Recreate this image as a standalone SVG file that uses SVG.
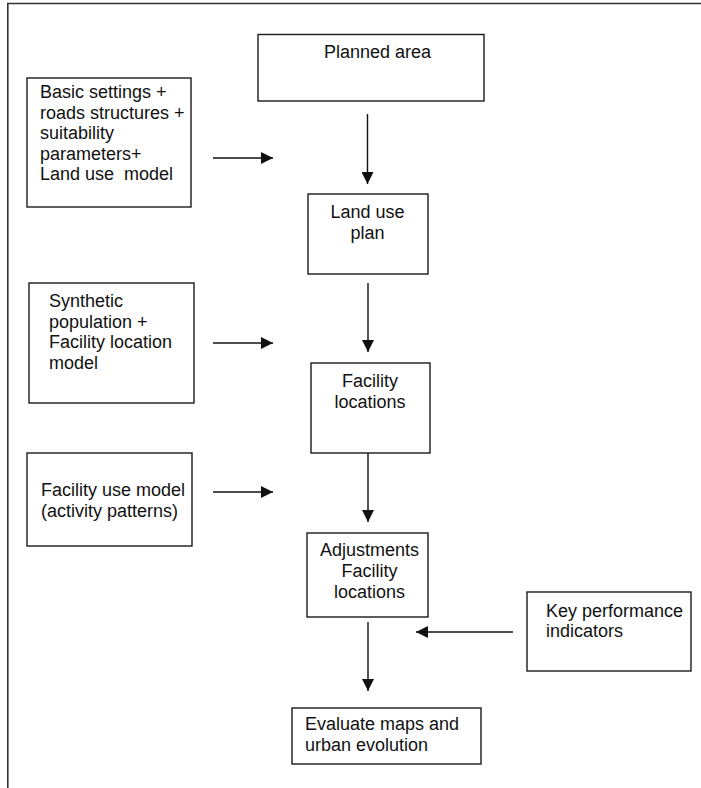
<svg xmlns="http://www.w3.org/2000/svg" width="701" height="788" viewBox="0 0 701 788">
<style>
.box{fill:#fff;stroke:#1a1a1a;stroke-width:1.4}
.t{font-family:"Liberation Sans",Arial,sans-serif;font-size:18px;fill:#111}
.c{text-anchor:middle}
.con{stroke:#111;stroke-width:1.4;fill:none;marker-end:url(#ah)}
.frame{stroke:#333;stroke-width:1.6;fill:none}
</style>
<defs>
<marker id="ah" viewBox="0 0 12 12" refX="12" refY="6" markerWidth="12" markerHeight="12" markerUnits="userSpaceOnUse" orient="auto">
<path d="M0,0 L12,6 L0,12 z" fill="#111"/>
</marker>
</defs>
<rect width="701" height="788" fill="#fff"/>
<path class="frame" d="M7.8,788 V3.5 H701"/>
<g id="planned-area">
<rect class="box" x="258" y="34.5" width="226" height="66.5"/>
<text class="t c" x="377.5" y="58">Planned area</text>
</g>
<g id="basic-settings">
<rect class="box" x="27" y="78" width="164" height="129"/>
<text class="t" x="40" y="98">Basic settings +</text>
<text class="t" x="40" y="118.5">roads structures +</text>
<text class="t" x="40" y="139">suitability</text>
<text class="t" x="40" y="159.5">parameters+</text>
<text class="t" x="40" y="180" xml:space="preserve">Land use  model</text>
</g>
<g id="land-use-plan">
<rect class="box" x="308" y="194" width="120" height="80"/>
<text class="t c" x="367.5" y="218">Land use</text>
<text class="t c" x="367.5" y="238.5">plan</text>
</g>
<g id="synthetic-population">
<rect class="box" x="29" y="283" width="165" height="120"/>
<text class="t" x="49" y="307">Synthetic</text>
<text class="t" x="49" y="327.5">population +</text>
<text class="t" x="49" y="348">Facility location</text>
<text class="t" x="49" y="368.5">model</text>
</g>
<g id="facility-locations">
<rect class="box" x="311" y="363" width="119" height="90"/>
<text class="t c" x="370" y="387">Facility</text>
<text class="t c" x="370" y="407.5">locations</text>
</g>
<g id="facility-use-model">
<rect class="box" x="27" y="453" width="165" height="93"/>
<text class="t" x="41" y="496">Facility use model</text>
<text class="t" x="41" y="516.5">(activity patterns)</text>
</g>
<g id="adjustments">
<rect class="box" x="307" y="533" width="121" height="84"/>
<text class="t c" x="369.5" y="555.5">Adjustments</text>
<text class="t c" x="369.5" y="576.5">Facility</text>
<text class="t c" x="369.5" y="597.5">locations</text>
</g>
<g id="key-performance-indicators">
<rect class="box" x="527" y="592" width="164" height="79"/>
<text class="t" x="546" y="617">Key performance</text>
<text class="t" x="546" y="637">indicators</text>
</g>
<g id="evaluate-maps">
<rect class="box" x="292" y="708" width="189" height="56"/>
<text class="t" x="305" y="730">Evaluate maps and</text>
<text class="t" x="305" y="751">urban evolution</text>
</g>
<g id="connectors">
<line class="con" x1="367.5" y1="114" x2="367.5" y2="184"/>
<line class="con" x1="213" y1="158" x2="273" y2="158"/>
<line class="con" x1="368" y1="283" x2="368" y2="352"/>
<line class="con" x1="213" y1="343" x2="273" y2="343"/>
<line class="con" x1="368" y1="453" x2="368" y2="522"/>
<line class="con" x1="213" y1="492" x2="273" y2="492"/>
<line class="con" x1="368" y1="622" x2="368" y2="691"/>
<line class="con" x1="513" y1="632" x2="416" y2="632"/>
</g>
</svg>
